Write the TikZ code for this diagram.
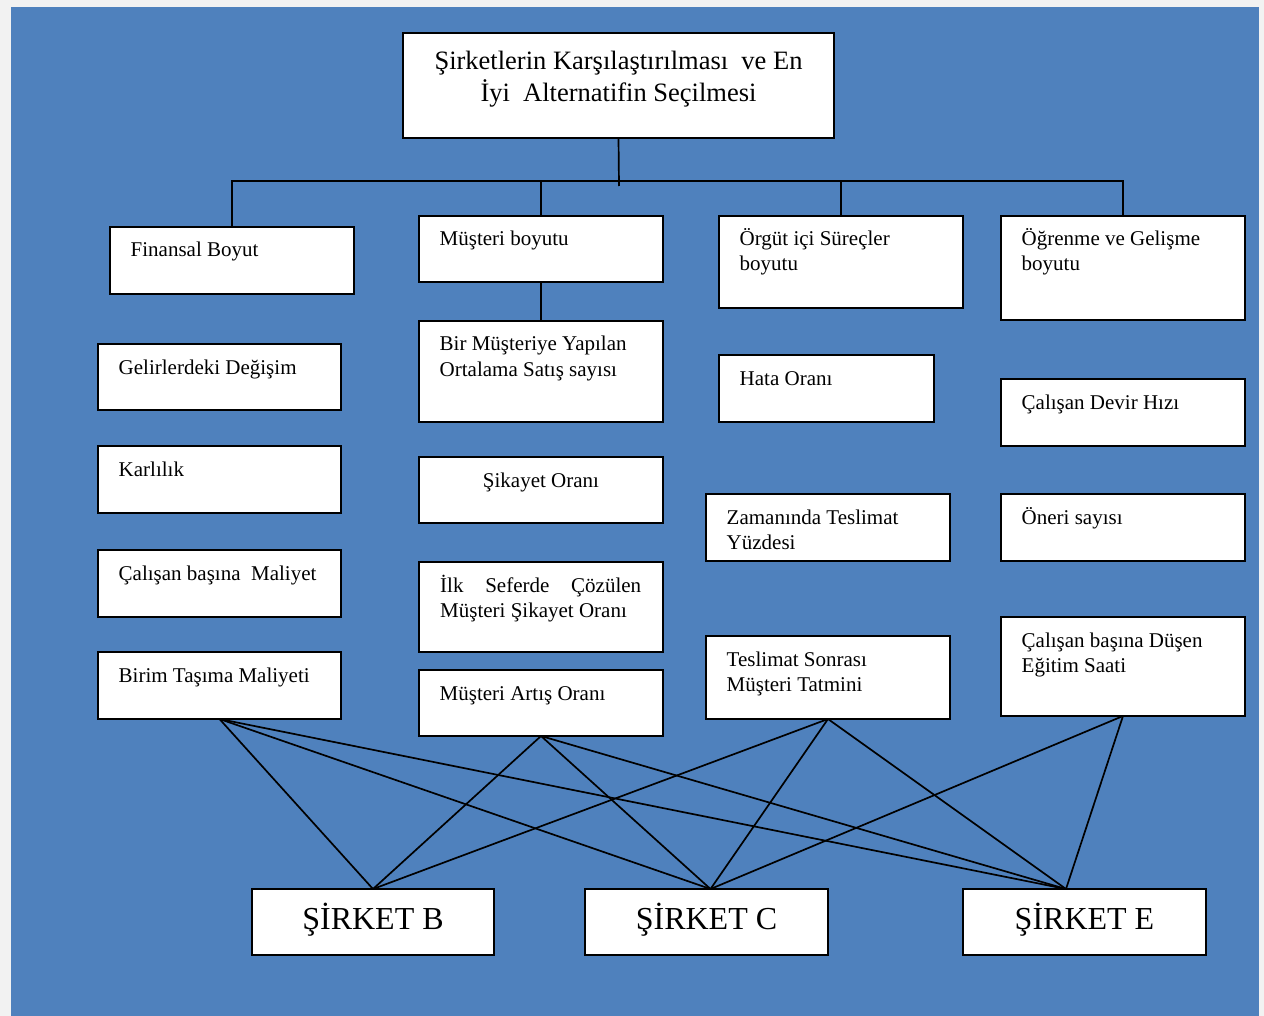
\documentclass[tikz,border=0pt]{standalone}
\usepackage{fontspec}
\setmainfont{Liberation Serif}
\definecolor{bgblue}{HTML}{4F81BD}
\definecolor{margin}{HTML}{F2F2F2}
\tikzset{
  box/.style={draw=black, fill=white, line width=1.8pt, inner sep=0pt, outer sep=0pt, anchor=north west},
  lbl/.style={anchor=base west, inner sep=0pt, font=\fontsize{21}{25}\selectfont},
  conn/.style={draw=black, line width=1.7pt},
}
\newcommand\mybox[6]{%
  \node[box, minimum width=\the\numexpr#4-#2\relax pt, minimum height=\the\numexpr#5-#3\relax pt] (#1) at (#2,#3) {};
  \node[lbl] (#1-t) at (#2+20.5,#3+30) {\parbox[t]{230pt}{\raggedright #6}};
}
\begin{document}
\begin{tikzpicture}[x=1pt,y=-1pt]
\useasboundingbox (0,0) rectangle (1264,1016);
\fill[margin] (0,0) rectangle (1264,1016);
\fill[bgblue] (11,7) rectangle (1259,1016);
% title
\node[box, minimum width=431pt, minimum height=105pt] (title) at (403,33) {};
\node[anchor=base, inner sep=0pt, font=\fontsize{26.5}{32}\selectfont] (title-t) at (618.5,69.5)
  {\parbox[t]{431pt}{\centering Şirketlerin Karşılaştırılması\ \ ve En\\İyi\ \ Alternatifin Seçilmesi}};
% dimensions
\mybox{fin}{110}{227}{354}{294}{Finansal Boyut}
\mybox{mus}{419}{216}{663}{282}{Müşteri boyutu}
\mybox{org}{719}{216}{963}{308}{Örgüt içi Süreçler\\boyutu}
\mybox{ogr}{1001}{216}{1245}{320}{Öğrenme ve Gelişme\\boyutu}
% column 1
\mybox{gel}{98}{344}{341}{410}{Gelirlerdeki Değişim}
\mybox{kar}{98}{446}{341}{513}{Karlılık}
\mybox{mal}{98}{550}{341}{617}{Çalışan başına\ \ Maliyet}
\mybox{bir}{98}{652}{341}{719}{Birim Taşıma Maliyeti}
% column 2
\mybox{ort}{419}{321}{663}{422}{Bir Müşteriye Yapılan\\Ortalama Satış sayısı}
\node[box, minimum width=244pt, minimum height=66pt] (sik) at (419,457) {};
\node[anchor=base, inner sep=0pt, font=\fontsize{21}{25}\selectfont] (sik-t) at (541,487) {Şikayet Oranı};
\node[box, minimum width=244pt, minimum height=90pt] (ilk) at (419,562) {};
\node[lbl] (ilk-t) at (440,592) {\parbox[t]{201pt}{İlk\hfill Seferde\hfill Çözülen\\Müşteri Şikayet Oranı}};
\mybox{art}{419}{670}{663}{736}{Müşteri Artış Oranı}
% column 3
\mybox{hat}{719}{355}{934}{422}{Hata Oranı}
\mybox{zam}{706}{494}{950}{561}{Zamanında Teslimat\\Yüzdesi}
\mybox{tes}{706}{636}{950}{719}{Teslimat Sonrası\\Müşteri Tatmini}
% column 4
\mybox{dev}{1001}{379}{1245}{446}{Çalışan Devir Hızı}
\mybox{one}{1001}{494}{1245}{561}{Öneri sayısı}
\mybox{egi}{1001}{617}{1245}{716}{Çalışan başına Düşen\\Eğitim Saati}
% companies
\node[box, minimum width=242pt, minimum height=66pt] (sB) at (252,889) {};
\node[box, minimum width=243pt, minimum height=66pt] (sC) at (585,889) {};
\node[box, minimum width=243pt, minimum height=66pt] (sE) at (963,889) {};
\node[anchor=base, inner sep=0pt, font=\fontsize{32}{38}\selectfont] (sB-t) at (373,929) {ŞİRKET B};
\node[anchor=base, inner sep=0pt, font=\fontsize{32}{38}\selectfont] (sC-t) at (706.5,929) {ŞİRKET C};
\node[anchor=base, inner sep=0pt, font=\fontsize{32}{38}\selectfont] (sE-t) at (1084.5,929) {ŞİRKET E};
% tree connectors
\coordinate (bus) at (619,181);
\coordinate (busend) at (619,186);
\draw[conn] (title.south) -- (busend);
\draw[conn] (fin.north) -- (fin.north |- bus) -- (ogr.north |- bus) -- (ogr.north);
\draw[conn] (mus.north |- bus) -- (mus.north);
\draw[conn] (org.north |- bus) -- (org.north);
\draw[conn] (mus.south) -- (ort.north);
% apexes
\coordinate (aB) at (sB.north);
\coordinate (aC) at ([xshift=4pt]sC.north);
\coordinate (aE) at ([xshift=-18.5pt]sE.north);
\foreach \s in {bir,art,tes}{
  \draw[conn] (\s.south) -- (aB);
}
\foreach \s in {bir,art,tes,egi}{
  \draw[conn] (\s.south) -- (aC);
  \draw[conn] (\s.south) -- (aE);
}
\end{tikzpicture}
\end{document}
